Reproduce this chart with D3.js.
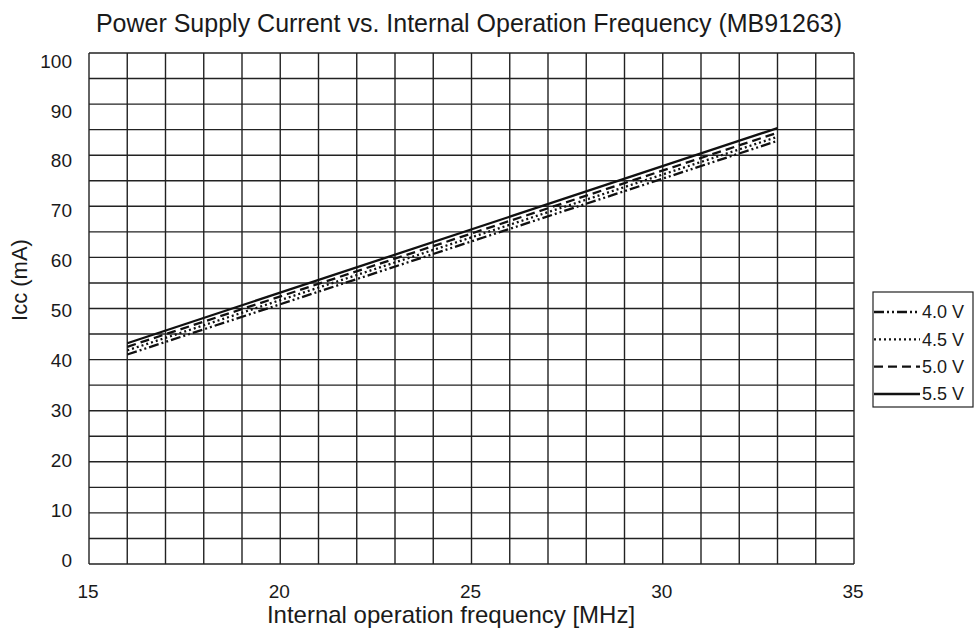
<!DOCTYPE html>
<html><head><meta charset="utf-8">
<script src="https://cdn.jsdelivr.net/npm/d3@7"></script>
<style>body{margin:0;background:#fff}svg{display:block}text{font-family:"Liberation Sans",Arial,sans-serif;fill:#1a1a1a}</style>
</head><body><svg id="c" width="979" height="629"></svg>
<script>
const freqs = [16, 33];
const seriesNames = ["4.0 V", "4.5 V", "5.0 V", "5.5 V"];
const v40 = [41.0, 82.8];
const v45 = [41.8, 83.6];
const v50 = [42.5, 84.4];
const v55 = [43.2, 85.3];
const xTicks = [15, 20, 25, 30, 35];
const yTicks = [0, 10, 20, 30, 40, 50, 60, 70, 80, 90, 100];
const xGrid = d3.range(15, 36, 1);
const yGrid = d3.range(0, 101, 5);

const svg = d3.select("#c");
const x = d3.scaleLinear().domain([15, 35]).range([89, 854]);
const y = d3.scaleLinear().domain([0, 100]).range([564, 53]);
const yLab = d3.scaleLinear().domain([0, 100]).range([560, 61]);

const g = svg.append("g");
g.selectAll(".vg").data(xGrid).join("line")
  .attr("x1", d => x(d)).attr("x2", d => x(d)).attr("y1", y(0)).attr("y2", y(100))
  .attr("stroke", "#222").attr("stroke-width", 1.4);
g.selectAll(".hg").data(yGrid).join("line")
  .attr("y1", d => y(d)).attr("y2", d => y(d)).attr("x1", x(15)).attr("x2", x(35))
  .attr("stroke", "#222").attr("stroke-width", 1.4);

svg.selectAll(".yl").data(yTicks).join("text")
  .attr("x", 72).attr("y", d => yLab(d)).attr("dy", "0.35em")
  .attr("text-anchor", "end").attr("font-size", 19).text(d => d);
svg.selectAll(".xl").data(xTicks).join("text")
  .attr("x", d => x(d) - 1).attr("y", 598)
  .attr("text-anchor", "middle").attr("font-size", 19).text(d => d);

svg.append("text").attr("x", 469).attr("y", 32).attr("text-anchor", "middle")
  .attr("font-size", 25).text("Power Supply Current vs. Internal Operation Frequency (MB91263)");
svg.append("text").attr("x", 451).attr("y", 623).attr("text-anchor", "middle")
  .attr("font-size", 24).text("Internal operation frequency [MHz]");
svg.append("text").attr("transform", "translate(27,280) rotate(-90)").attr("text-anchor", "middle")
  .attr("font-size", 22).text("Icc (mA)");

const dashes = ["10,3,2,3,2,3", "2,3", "9,5", null];
const series = [v40, v45, v50, v55];
const line = d3.line().x((d, i) => x(freqs[i])).y(d => y(d));
series.forEach((s, k) => {
  const p = svg.append("path").datum(s).attr("d", line).attr("fill", "none")
    .attr("stroke", "#111").attr("stroke-width", 2.3);
  if (dashes[k]) p.attr("stroke-dasharray", dashes[k]);
});

const lg = svg.append("g");
lg.append("rect").attr("x", 873).attr("y", 292).attr("width", 100).attr("height", 115)
  .attr("fill", "#fff").attr("stroke", "#222").attr("stroke-width", 1.2);
const ly = d3.scalePoint().domain(seriesNames).range([312, 394]);
seriesNames.forEach((n, k) => {
  const l = lg.append("line").attr("x1", 874).attr("x2", 920).attr("y1", ly(n)).attr("y2", ly(n))
    .attr("stroke", "#111").attr("stroke-width", 2.3);
  if (dashes[k]) l.attr("stroke-dasharray", dashes[k]);
  lg.append("text").attr("x", 922).attr("y", ly(n)).attr("dy", "0.35em").attr("font-size", 18).text(n);
});
</script></body></html>
